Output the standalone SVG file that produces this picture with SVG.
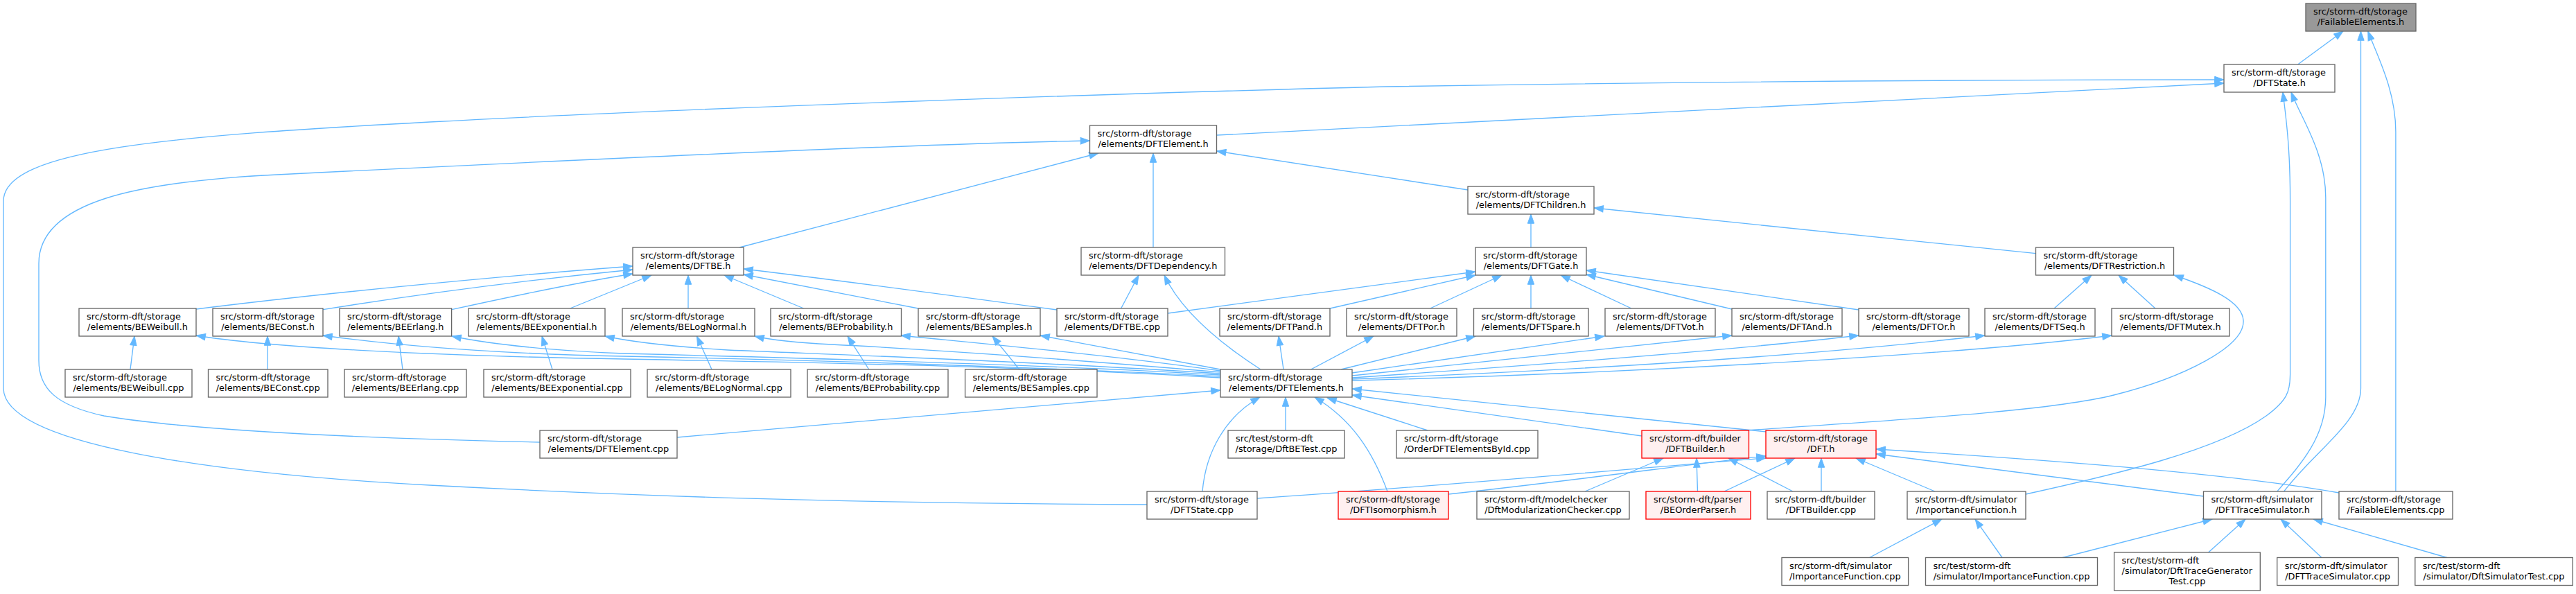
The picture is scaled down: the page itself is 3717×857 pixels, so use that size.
<svg xmlns="http://www.w3.org/2000/svg" width="3717" height="857" viewBox="0 0 3717 857">
<style>
.n rect{fill:#ffffff;stroke:#666666;stroke-width:1.33}
.n.root rect{fill:#999999}
.n.red rect{fill:#fff0f0;stroke:#ff0000}
text{font-family:"DejaVu Sans",sans-serif;font-size:12.9px;fill:#000000}
.c{text-anchor:middle}
#edges path{fill:none;stroke:#63b8ff;stroke-width:1.33;marker-end:url(#ah)}
</style>
<defs>
<marker id="ah" markerUnits="userSpaceOnUse" markerWidth="15" markerHeight="11" viewBox="-1 -1 15 11" refX="13.3" refY="4.7" orient="auto"><path d="M0,0 L13.3,4.7 L0,9.4 z" fill="#63b8ff" stroke="#63b8ff" stroke-width="1"/></marker>
</defs>
<rect x="0" y="0" width="3717" height="857" fill="#ffffff"/>
<g id="edges">
<path d="M3315.6,93 L3381,45"/>
<path d="M3295.6,709 C3340,650 3406.5,610 3406.5,560 L3406.5,45"/>
<path d="M3456.9,709 L3456.9,190 C3456.9,130 3430,80 3416.8,45"/>
<path d="M1755.6,195 L3209,120"/>
<path d="M1655,728 C1200,726 900,715 620,700 C300,683 5,640 5,560 L5,290 C5,215 250,196 620,176 C1000,156 1600,135 2000,125 C2500,117 2900,115 3209,115"/>
<path d="M2923,713 C3050,685 3200,650 3270,600 C3300,578 3304.6,565 3304.6,540 L3304.6,290 C3304.6,220 3300,180 3294,133"/>
<path d="M3285.7,709 C3320,670 3355.8,630 3355.8,573 L3355.8,285 C3355.8,220 3320,170 3306,133"/>
<path d="M1067,357 L1585,221"/>
<path d="M1664,357 L1664,221"/>
<path d="M2118,274 L1755.6,218"/>
<path d="M779,638 C600,634 300,625 150,600 C80,585 56,560 56,520 L56,380 C56,290 200,262 400,252 C800,232 1300,208 1572.5,203"/>
<path d="M2209,357 L2209,309"/>
<path d="M2937.5,365.7 L2300,300"/>
<path d="M283,446 C450,425 700,400 913,384"/>
<path d="M466,446.7 C600,425 750,405 913,389"/>
<path d="M651.6,446.7 C750,425 850,405 913,395"/>
<path d="M822.5,445 L940,397"/>
<path d="M993,445 L993,397"/>
<path d="M1159.7,445 L1045,397"/>
<path d="M1325,445 L1073,396"/>
<path d="M1525,447 C1400,430 1200,403 1073,388"/>
<path d="M1617.6,445 L1643,397"/>
<path d="M1819,533 C1760,495 1705,450 1680,397"/>
<path d="M1685,452 L2129,392"/>
<path d="M1919,445 L2129,397"/>
<path d="M2063.6,445 L2167,397"/>
<path d="M2209,445 L2209,397"/>
<path d="M2354,445 L2252,397"/>
<path d="M2499,446 L2289,396"/>
<path d="M2682,447 L2289,390"/>
<path d="M2964,445 L3018,397"/>
<path d="M3110,445 L3057,397"/>
<path d="M2520,621 C2700,608 2950,595 3050,570 C3150,545 3240,500 3237,462 C3235,435 3190,415 3137,397"/>
<path d="M1761,545 C1500,530 1240,524 900,518 C600,513 380,500 283,484"/>
<path d="M1761,543 C1500,530 1240,521 900,514 C700,510 560,497 466,484"/>
<path d="M1761,541 C1500,525 1100,515 900,510 C780,505 700,495 652,485"/>
<path d="M1761,539 C1500,522 1240,513 1050,505 C970,500 910,493 873,485"/>
<path d="M1761,537 C1500,515 1300,502 1200,497 C1140,494 1110,490 1089,485"/>
<path d="M1761,535 C1600,512 1420,496 1300,484"/>
<path d="M1761,533 C1650,512 1560,495 1501,484"/>
<path d="M1852,533 L1845,485"/>
<path d="M1891.6,533 L1982,485"/>
<path d="M1935,533 L2129,485"/>
<path d="M1951,538 L2315,485"/>
<path d="M1951,542 L2499,484"/>
<path d="M1951,545 C2200,528 2500,505 2682,484"/>
<path d="M1951,547 C2250,535 2600,515 2864,484"/>
<path d="M1951,549 C2300,540 2800,515 3047,484"/>
<path d="M188,533 L194,485"/>
<path d="M386,533 L386,485"/>
<path d="M581,533 L575,485"/>
<path d="M797,533 L782,485"/>
<path d="M1027,533 L1005.5,485"/>
<path d="M1253.8,533 L1223,485"/>
<path d="M1471,533 L1432,485"/>
<path d="M977,631 L1761,563"/>
<path d="M1855,621 L1855,573"/>
<path d="M1735,709 C1740,650 1770,600 1818,573"/>
<path d="M2002,709 C1980,650 1950,605 1897,573"/>
<path d="M2060,621 L1915,574"/>
<path d="M2369,629 L1951,570"/>
<path d="M2549,623 L1951,561"/>
<path d="M2090,713 C2300,690 2450,668 2548,658"/>
<path d="M1814,719 C2100,700 2400,672 2548,661"/>
<path d="M2287,709 L2400,661"/>
<path d="M2449.5,709 L2448,661"/>
<path d="M2587,709 L2494,661"/>
<path d="M2488,709 L2590,661"/>
<path d="M2628,709 L2628,661"/>
<path d="M2792,709 L2678,661"/>
<path d="M3179.5,716 L2707,655"/>
<path d="M3375,711 C3200,680 2900,660 2707,648"/>
<path d="M2697.5,804.5 L2802,749"/>
<path d="M2889,804.5 L2850,749"/>
<path d="M2976,804.5 L3192,749"/>
<path d="M3186.6,797 L3240,749"/>
<path d="M3350,804.5 L3291,749"/>
<path d="M3531,804.5 L3338,749"/>
</g>
<g id="fe_h" class="n root"><rect x="3327" y="5" width="159" height="40"/><text x="3338" y="21.3">src/storm-dft/storage</text><text class="c" x="3406.5" y="36.3">/FailableElements.h</text></g>
<g id="dftstate_h" class="n"><rect x="3209" y="93" width="160" height="40"/><text x="3220" y="109.3">src/storm-dft/storage</text><text class="c" x="3289" y="124.3">/DFTState.h</text></g>
<g id="dftelement_h" class="n"><rect x="1572.5" y="181" width="183" height="40"/><text x="1583.5" y="197.3">src/storm-dft/storage</text><text class="c" x="1664" y="212.3">/elements/DFTElement.h</text></g>
<g id="dftchildren_h" class="n"><rect x="2118" y="269" width="182" height="40"/><text x="2129" y="285.3">src/storm-dft/storage</text><text class="c" x="2209" y="300.3">/elements/DFTChildren.h</text></g>
<g id="dftbe_h" class="n"><rect x="913" y="357" width="160" height="40"/><text x="924" y="373.3">src/storm-dft/storage</text><text class="c" x="993" y="388.3">/elements/DFTBE.h</text></g>
<g id="dftdependency_h" class="n"><rect x="1560" y="357" width="207.5" height="40"/><text x="1571" y="373.3">src/storm-dft/storage</text><text class="c" x="1663.75" y="388.3">/elements/DFTDependency.h</text></g>
<g id="dftgate_h" class="n"><rect x="2129" y="357" width="160" height="40"/><text x="2140" y="373.3">src/storm-dft/storage</text><text class="c" x="2209" y="388.3">/elements/DFTGate.h</text></g>
<g id="dftrestriction_h" class="n"><rect x="2937.5" y="357" width="199" height="40"/><text x="2948.5" y="373.3">src/storm-dft/storage</text><text class="c" x="3037" y="388.3">/elements/DFTRestriction.h</text></g>
<g id="beweibull_h" class="n"><rect x="114" y="445" width="169" height="40"/><text x="125" y="461.3">src/storm-dft/storage</text><text class="c" x="198.5" y="476.3">/elements/BEWeibull.h</text></g>
<g id="beconst_h" class="n"><rect x="307" y="445" width="159" height="40"/><text x="318" y="461.3">src/storm-dft/storage</text><text class="c" x="386.5" y="476.3">/elements/BEConst.h</text></g>
<g id="beerlang_h" class="n"><rect x="490" y="445" width="161.6" height="40"/><text x="501" y="461.3">src/storm-dft/storage</text><text class="c" x="570.8" y="476.3">/elements/BEErlang.h</text></g>
<g id="beexponential_h" class="n"><rect x="676" y="445" width="197" height="40"/><text x="687" y="461.3">src/storm-dft/storage</text><text class="c" x="774.5" y="476.3">/elements/BEExponential.h</text></g>
<g id="belognormal_h" class="n"><rect x="898" y="445" width="191" height="40"/><text x="909" y="461.3">src/storm-dft/storage</text><text class="c" x="993.5" y="476.3">/elements/BELogNormal.h</text></g>
<g id="beprobability_h" class="n"><rect x="1112" y="445" width="188.5" height="40"/><text x="1123" y="461.3">src/storm-dft/storage</text><text class="c" x="1206.25" y="476.3">/elements/BEProbability.h</text></g>
<g id="besamples_h" class="n"><rect x="1325" y="445" width="176" height="40"/><text x="1336" y="461.3">src/storm-dft/storage</text><text class="c" x="1413" y="476.3">/elements/BESamples.h</text></g>
<g id="dftbe_cpp" class="n"><rect x="1525" y="445" width="160" height="40"/><text x="1536" y="461.3">src/storm-dft/storage</text><text class="c" x="1605" y="476.3">/elements/DFTBE.cpp</text></g>
<g id="dftpand_h" class="n"><rect x="1760" y="445" width="159" height="40"/><text x="1771" y="461.3">src/storm-dft/storage</text><text class="c" x="1839.5" y="476.3">/elements/DFTPand.h</text></g>
<g id="dftpor_h" class="n"><rect x="1943" y="445" width="159" height="40"/><text x="1954" y="461.3">src/storm-dft/storage</text><text class="c" x="2022.5" y="476.3">/elements/DFTPor.h</text></g>
<g id="dftspare_h" class="n"><rect x="2126.5" y="445" width="165.5" height="40"/><text x="2137.5" y="461.3">src/storm-dft/storage</text><text class="c" x="2209.25" y="476.3">/elements/DFTSpare.h</text></g>
<g id="dftvot_h" class="n"><rect x="2316" y="445" width="159" height="40"/><text x="2327" y="461.3">src/storm-dft/storage</text><text class="c" x="2395.5" y="476.3">/elements/DFTVot.h</text></g>
<g id="dftand_h" class="n"><rect x="2499" y="445" width="159" height="40"/><text x="2510" y="461.3">src/storm-dft/storage</text><text class="c" x="2578.5" y="476.3">/elements/DFTAnd.h</text></g>
<g id="dftor_h" class="n"><rect x="2682" y="445" width="159" height="40"/><text x="2693" y="461.3">src/storm-dft/storage</text><text class="c" x="2761.5" y="476.3">/elements/DFTOr.h</text></g>
<g id="dftseq_h" class="n"><rect x="2864" y="445" width="159" height="40"/><text x="2875" y="461.3">src/storm-dft/storage</text><text class="c" x="2943.5" y="476.3">/elements/DFTSeq.h</text></g>
<g id="dftmutex_h" class="n"><rect x="3047" y="445" width="170" height="40"/><text x="3058" y="461.3">src/storm-dft/storage</text><text class="c" x="3132" y="476.3">/elements/DFTMutex.h</text></g>
<g id="beweibull_cpp" class="n"><rect x="94" y="533" width="183" height="40"/><text x="105" y="549.3">src/storm-dft/storage</text><text class="c" x="185.5" y="564.3">/elements/BEWeibull.cpp</text></g>
<g id="beconst_cpp" class="n"><rect x="300.5" y="533" width="172.5" height="40"/><text x="311.5" y="549.3">src/storm-dft/storage</text><text class="c" x="386.75" y="564.3">/elements/BEConst.cpp</text></g>
<g id="beerlang_cpp" class="n"><rect x="497" y="533" width="176" height="40"/><text x="508" y="549.3">src/storm-dft/storage</text><text class="c" x="585" y="564.3">/elements/BEErlang.cpp</text></g>
<g id="beexponential_cpp" class="n"><rect x="698" y="533" width="212" height="40"/><text x="709" y="549.3">src/storm-dft/storage</text><text class="c" x="804" y="564.3">/elements/BEExponential.cpp</text></g>
<g id="belognormal_cpp" class="n"><rect x="934" y="533" width="207" height="40"/><text x="945" y="549.3">src/storm-dft/storage</text><text class="c" x="1037.5" y="564.3">/elements/BELogNormal.cpp</text></g>
<g id="beprobability_cpp" class="n"><rect x="1165" y="533" width="203" height="40"/><text x="1176" y="549.3">src/storm-dft/storage</text><text class="c" x="1266.5" y="564.3">/elements/BEProbability.cpp</text></g>
<g id="besamples_cpp" class="n"><rect x="1392.6" y="533" width="190.4" height="40"/><text x="1403.6" y="549.3">src/storm-dft/storage</text><text class="c" x="1487.8" y="564.3">/elements/BESamples.cpp</text></g>
<g id="dftelements_h" class="n"><rect x="1761" y="533" width="190" height="40"/><text x="1772" y="549.3">src/storm-dft/storage</text><text class="c" x="1856" y="564.3">/elements/DFTElements.h</text></g>
<g id="dftelement_cpp" class="n"><rect x="779" y="621" width="198" height="40"/><text x="790" y="637.3">src/storm-dft/storage</text><text class="c" x="878" y="652.3">/elements/DFTElement.cpp</text></g>
<g id="dftbetest_cpp" class="n"><rect x="1772" y="621" width="168" height="40"/><text x="1783" y="637.3">src/test/storm-dft</text><text class="c" x="1856" y="652.3">/storage/DftBETest.cpp</text></g>
<g id="orderdft_cpp" class="n"><rect x="2015" y="621" width="204" height="40"/><text x="2026" y="637.3">src/storm-dft/storage</text><text class="c" x="2117" y="652.3">/OrderDFTElementsById.cpp</text></g>
<g id="dftbuilder_h" class="n red"><rect x="2369" y="621" width="154.5" height="40"/><text x="2380" y="637.3">src/storm-dft/builder</text><text class="c" x="2446.25" y="652.3">/DFTBuilder.h</text></g>
<g id="dft_h" class="n red"><rect x="2548" y="621" width="159" height="40"/><text x="2559" y="637.3">src/storm-dft/storage</text><text class="c" x="2627.5" y="652.3">/DFT.h</text></g>
<g id="dftstate_cpp" class="n"><rect x="1655" y="709" width="159" height="40"/><text x="1666" y="725.3">src/storm-dft/storage</text><text class="c" x="1734.5" y="740.3">/DFTState.cpp</text></g>
<g id="dftisomorphism_h" class="n red"><rect x="1931" y="709" width="159" height="40"/><text x="1942" y="725.3">src/storm-dft/storage</text><text class="c" x="2010.5" y="740.3">/DFTIsomorphism.h</text></g>
<g id="dftmodchecker_cpp" class="n"><rect x="2131" y="709" width="220" height="40"/><text x="2142" y="725.3">src/storm-dft/modelchecker</text><text class="c" x="2241" y="740.3">/DftModularizationChecker.cpp</text></g>
<g id="beorderparser_h" class="n red"><rect x="2375" y="709" width="151" height="40"/><text x="2386" y="725.3">src/storm-dft/parser</text><text class="c" x="2450.5" y="740.3">/BEOrderParser.h</text></g>
<g id="dftbuilder_cpp" class="n"><rect x="2550" y="709" width="155" height="40"/><text x="2561" y="725.3">src/storm-dft/builder</text><text class="c" x="2627.5" y="740.3">/DFTBuilder.cpp</text></g>
<g id="importancefunction_h" class="n"><rect x="2752" y="709" width="171" height="40"/><text x="2763" y="725.3">src/storm-dft/simulator</text><text class="c" x="2837.5" y="740.3">/ImportanceFunction.h</text></g>
<g id="dfttracesimulator_h" class="n"><rect x="3179.5" y="709" width="170.5" height="40"/><text x="3190.5" y="725.3">src/storm-dft/simulator</text><text class="c" x="3264.75" y="740.3">/DFTTraceSimulator.h</text></g>
<g id="failableelements_cpp" class="n"><rect x="3375" y="709" width="164" height="40"/><text x="3386" y="725.3">src/storm-dft/storage</text><text class="c" x="3457" y="740.3">/FailableElements.cpp</text></g>
<g id="importancefunction_cpp" class="n"><rect x="2571" y="804.5" width="182.6" height="40"/><text x="2582" y="820.8">src/storm-dft/simulator</text><text class="c" x="2662.3" y="835.8">/ImportanceFunction.cpp</text></g>
<g id="test_importancefunction_cpp" class="n"><rect x="2778.5" y="804.5" width="248" height="40"/><text x="2789.5" y="820.8">src/test/storm-dft</text><text class="c" x="2902.5" y="835.8">/simulator/ImportanceFunction.cpp</text></g>
<g id="dfttracegentest_cpp" class="n"><rect x="3050.6" y="797" width="210.7" height="55"/><text x="3061.6" y="813.3">src/test/storm-dft</text><text x="3061.6" y="828.1">/simulator/DftTraceGenerator</text><text class="c" x="3155.95" y="842.8">Test.cpp</text></g>
<g id="dfttracesimulator_cpp" class="n"><rect x="3285.7" y="804.5" width="174.8" height="40"/><text x="3296.7" y="820.8">src/storm-dft/simulator</text><text class="c" x="3373.1" y="835.8">/DFTTraceSimulator.cpp</text></g>
<g id="dftsimulatortest_cpp" class="n"><rect x="3484.8" y="804.5" width="227.5" height="40"/><text x="3495.8" y="820.8">src/test/storm-dft</text><text class="c" x="3598.55" y="835.8">/simulator/DftSimulatorTest.cpp</text></g>
</svg>
